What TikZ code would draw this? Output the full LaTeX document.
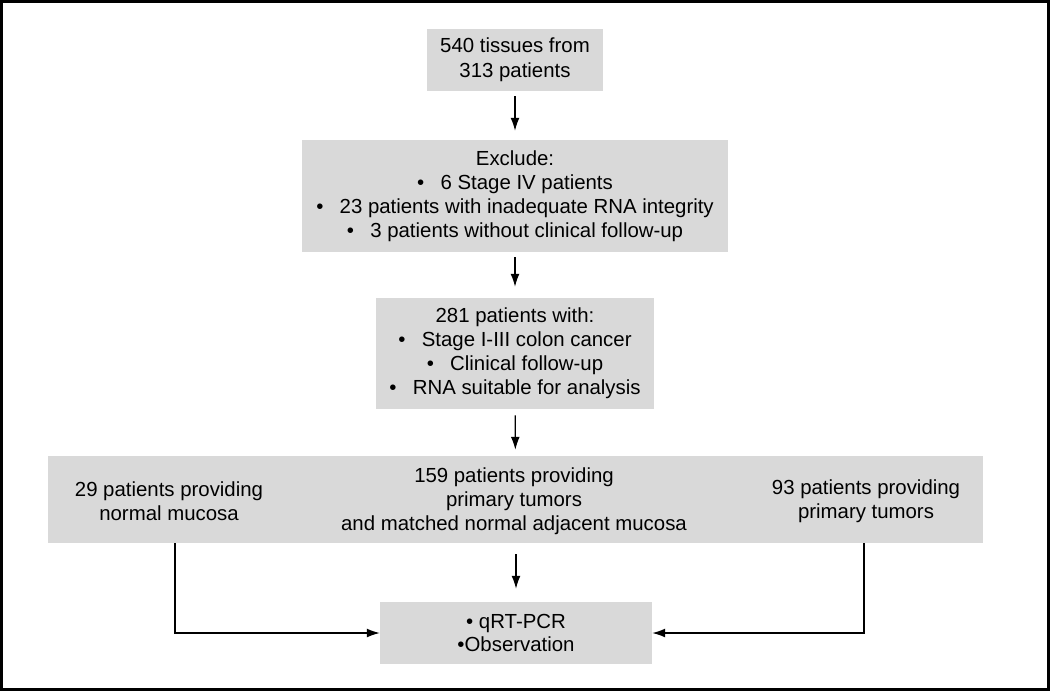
\documentclass[tikz,border=0pt]{standalone}
\usepackage{fontspec}
\setmainfont{Liberation Sans}
\usetikzlibrary{arrows.meta}
\definecolor{boxgray}{HTML}{D9D9D9}
\tikzset{
  stagebox/.style={fill=boxgray, inner sep=0pt, align=center, font=\fontsize{14.5}{17}\selectfont},
  plain/.style={inner sep=0pt, align=center, font=\fontsize{14.5}{17}\selectfont},
  flow/.style={->, line width=0.8pt, shorten <=5\unit, shorten >=9\unit},
}
\newcommand{\unit}{*0.025cm}
\newcommand{\bul}{\textbullet\hspace{0.8em}}
\begin{document}
\begin{tikzpicture}[x=0.025cm, y=-0.025cm, >={Latex[length=3.2mm,width=2.2mm]}]
			\useasboundingbox (0,0) rectangle (1050,691);
			% Frame
			\draw[line width=2pt] (1.5,1.5) rectangle (1048.5,689.5);

			% Stages
			\node[stagebox, minimum width=4.4cm, minimum height=1.55cm, font=\fontsize{14.5}{18}\selectfont] (tissues) at (515,60) {540 tissues from\\313 patients};
			\node[stagebox, minimum width=10.65cm, minimum height=2.8cm] (exclude) at (515,196)
				{Exclude:\\\bul 6 Stage IV patients\\\bul 23 patients with inadequate RNA integrity\\\bul 3 patients without clinical follow-up};
			\node[stagebox, minimum width=6.95cm, minimum height=2.775cm] (cohort) at (515,353.5)
				{281 patients with:\\\bul Stage I-III colon cancer\\\bul Clinical follow-up\\\bul RNA suitable for analysis};

			% Groups
			\node[stagebox, minimum width=23.375cm, minimum height=2.175cm] (groups) at (515.5,499.5) {};
			\node[plain] (normal) at (169,501) {29 patients providing\\normal mucosa};
			\node[plain] (matched) at (514,501) {159 patients providing\\primary tumors\\and matched normal adjacent mucosa};
			\node[plain] (tumors) at (866,501) {93 patients providing\\primary tumors};

			% Analysis
			\node[stagebox, minimum width=6.8cm, minimum height=1.55cm] (analysis) at (516,633) {\textbullet\ qRT-PCR\\\textbullet Observation};

			% Arrows
			\draw[flow] (tissues) -- (exclude);
			\draw[flow, shorten >=11\unit] (exclude) -- (cohort);
			\draw[flow, shorten <=6\unit, shorten >=6\unit] (cohort) -- (groups);
			\draw[flow, shorten <=11\unit, shorten >=13\unit] (groups.south -| analysis) -- (analysis);

			\coordinate (leftdrop) at (175,543);
			\coordinate (rightdrop) at (864,543);
			\draw[->, line width=0.8pt] (leftdrop) |- (analysis.west);
			\draw[->, line width=0.8pt] (rightdrop) |- (analysis.east);
		\end{tikzpicture}
\end{document}
